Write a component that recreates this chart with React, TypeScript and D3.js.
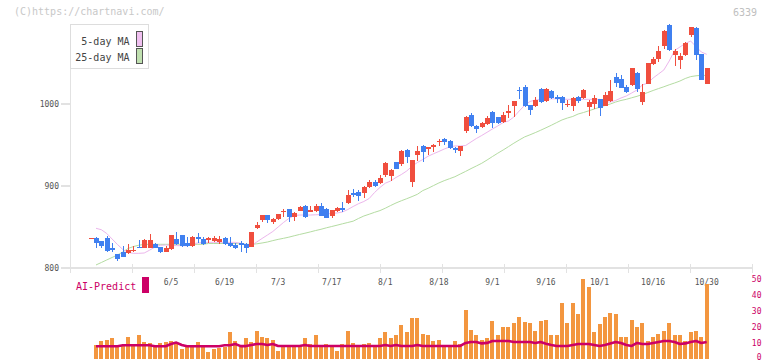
import React from "react";
import * as d3 from "d3";

// ---- data (slot -1 .. 114 for candles; slot 0 .. 114 for the rest) ----
const FIRST_SLOT = -1;
const open = [
  835.8,
  837, 833, 836, 824, 816.5, 820, 818.5, 821, 825.5, 825,
  825, 829, 825.5, 820, 823, 835.5, 840, 831, 827, 837.5,
  835.5, 834, 833, 832, 837, 831, 828.5, 831, 829, 826,
  849, 858.5, 864.6, 856.5, 859.8, 868, 872, 862.6, 869.5, 875.6,
  868.3, 869.5, 875.6, 871.6, 863.8, 869.9, 873.2, 878.9, 891.8, 893,
  891.8, 898.4, 905.2, 904, 913.4, 912.6, 929, 926.8, 943.9, 905.3,
  937.8, 948.8, 945.1, 947.9, 954, 957.3, 954.9, 946.7, 943, 967.1,
  986.6, 973.2, 972.3, 975.6, 990.6, 983.7, 977.7, 989.4, 997.6, 1017,
  1020.7, 998.4, 997.6, 1017.9, 1003.7, 1015.9, 1008, 1009, 998.4, 997.9,
  1008.9, 1007.7, 996.7, 1000, 1006, 997.9, 1004, 1032.5, 1030.5, 1021,
  1023.2, 1037.8, 1002.8, 1024.8, 1048.8, 1055, 1071, 1096.3, 1059.8, 1054,
  1059.8, 1084.5, 1092.7, 1061, 1024.8,
];
const high = [
  836.2,
  838, 833.5, 839, 830, 817, 827, 829, 827, 834, 835,
  841, 831, 826, 827, 840.5, 844, 840.5, 838, 838.5, 843,
  838, 838, 839, 839, 838, 838, 830, 833, 830, 844,
  856.5, 865, 865, 861, 866, 871.6, 872.5, 868.5, 875.6, 876.8,
  875.6, 878, 878.9, 873, 871, 874.8, 880.5, 895, 896.3, 895,
  900, 907.3, 907, 914, 929, 921, 929.5, 944, 945, 932,
  949, 949.5, 948, 951, 957, 958.9, 955.5, 947.9, 949, 985,
  988.7, 975, 978, 985.7, 992, 984.5, 990.6, 998.5, 1004, 1020.4,
  1023, 999, 1009, 1019, 1019, 1016.5, 1011, 1010, 1004.9, 1008.9,
  1010, 1018.3, 1004.9, 1011, 1006.5, 1015, 1029.3, 1037.4, 1035.4, 1023.2,
  1044, 1039, 1025, 1050.4, 1057.7, 1071, 1090, 1098, 1067.5, 1062,
  1076, 1094.5, 1093.5, 1061.5, 1044,
];
const low = [
  835.8,
  824, 825, 820, 819, 808, 813, 817, 820, 824, 825,
  824, 824, 818, 819, 822, 828, 826, 826, 826, 831,
  828, 831, 832, 829, 828, 826, 823, 820, 818, 826,
  847, 856, 855.3, 853.3, 859, 862.6, 856.5, 857.7, 869, 861.3,
  868, 867.9, 863.5, 861, 860.6, 867.9, 867.9, 878, 887, 882,
  885.7, 897, 898.4, 903, 910.6, 906.5, 921, 925, 927.6, 898.4,
  931, 929.6, 937.8, 941.1, 949, 950.4, 945.1, 939.9, 936.6, 965,
  972.5, 965, 971, 974.5, 970.4, 976, 977, 983, 984, 1005.7,
  996, 987, 996, 1000.8, 1003, 1006, 1001, 993, 996.7, 991.8,
  1001.6, 1006.5, 985.7, 993.5, 985.7, 997, 1003, 1021, 1019, 1013.8,
  1022, 1014.6, 998.8, 1024, 1048, 1051.6, 1066.7, 1065, 1046.7, 1042.7,
  1059, 1081.3, 1053.7, 1029.5, 1024.5,
];
const close = [
  836.2,
  830, 827, 821, 822, 811, 814, 822.5, 822, 824.5, 834,
  834, 825, 819, 825, 840, 829, 827, 827, 838, 835.5,
  829, 837, 837, 835, 829, 827, 825, 828.5, 825, 844,
  853, 864.6, 858, 859.8, 865.9, 869.5, 862.6, 867.5, 874.8, 862.6,
  870.7, 875.6, 863.8, 861.3, 870.7, 873.5, 870.7, 889, 889.4, 888.2,
  899, 905.2, 900, 909.8, 928, 919.5, 921, 943, 935.7, 931.7,
  943, 941.8, 947.2, 950, 955.3, 954, 946.7, 944.3, 948.8, 984.5,
  973.2, 969.5, 976.5, 983.3, 977.2, 977.2, 986.6, 991.5, 1003.7, 1015.5,
  997.6, 992.7, 1004.9, 1002.8, 1017.9, 1007.7, 1006.3, 1001.6, 1000, 1007.5,
  1003.7, 1017, 1002.8, 1007, 995.5, 1011, 1015.9, 1026, 1019.9, 1014.3,
  1043.5, 1018.7, 1014.6, 1050.4, 1054.9, 1065, 1089, 1065.9, 1064.6, 1058.9,
  1074.8, 1094, 1060.2, 1029.7, 1043.9,
];
const ma5 = [
  848.4, 846.7, 842.1, 835.4, 828.7, 822.6, 818.9, 817.9, 817.9, 818.3,
  821.7, 825.6, 827.7, 828, 827.8, 827.3, 827.2, 827.2, 829.5, 830.5,
  831.1, 831.3, 831.3, 831.3, 831.3, 831.3, 831.3, 830.1, 828.7, 827.4,
  831.7, 836, 840.2, 844.5, 850, 855.5, 860.4, 864, 864.6, 864.6,
  864.6, 864.9, 865.2, 865.9, 866.5, 867.1, 868.3, 871.3, 875, 878.4,
  881.1, 884.8, 892.1, 898.2, 903.4, 906.1, 910.4, 914, 918.3, 924.1,
  928.7, 932.3, 936.3, 939.3, 942.1, 945.1, 947.6, 948.8, 948.8, 949.4,
  953.7, 957.9, 961.6, 965.5, 969.5, 973.2, 977.4, 979.3, 984.1, 991.5,
  998.2, 1003, 1004.9, 1005.5, 1005.7, 1006.3, 1006.3, 1006.1, 1005.7, 1005.7,
  1005.7, 1005.7, 1005.7, 1005.7, 1005.7, 1003, 1002.4, 1004.3, 1007.3, 1009.8,
  1013.4, 1017.1, 1023.2, 1025.6, 1031.7, 1036.6, 1041.5, 1052.4, 1065.2, 1069.5,
  1073.8, 1076.8, 1070.1, 1063.4, 1060.6,
];
const ma25 = [
  803.7, 806.7, 809.8, 812.8, 815.9, 819.5, 823.8, 826.2, 827.8, 828.7,
  828.9, 828.9, 828.9, 828.9, 828.9, 828.9, 828.9, 828.9, 828.9, 828.9,
  828.9, 829.9, 829.9, 829.9, 829.9, 829.9, 829.9, 829.3, 828.9, 828.9,
  829.5, 830.5, 831.7, 833.4, 834.9, 836.2, 837.6, 839.3, 840.9, 842.4,
  844, 845.7, 847.2, 849, 850.6, 852.2, 853.9, 855.5, 857.1, 860.4,
  863.4, 865.6, 867.9, 870, 872.9, 876.2, 879.3, 882, 884.5, 887.1,
  889.9, 894.4, 897.2, 900.5, 903.7, 906.5, 908.9, 911.3, 914.6, 917.8,
  921.2, 924.4, 927.7, 931.7, 935.9, 940, 943.9, 948, 952.2, 956.1,
  959.8, 962.4, 965.1, 968, 971, 974.1, 977.4, 980.6, 982.9, 984.8,
  987.8, 989.6, 991.7, 993.9, 996, 998.2, 1000, 1002.4, 1004.3, 1005.7,
  1007.6, 1009.4, 1011.6, 1014, 1016.5, 1018.8, 1021, 1023.4, 1025.6, 1028,
  1031.1, 1033.4, 1034.4, 1035, 1034.8,
];
const volume = [
  8.2, 10.9, 11.5, 13.2, 8.8, 8.2, 13.8, 8.2, 14.5, 10.3,
  9.6, 8.2, 9.6, 10.3, 11.3, 9.6, 5.9, 7.5, 7.5, 10.3,
  8.8, 4, 5.9, 6.7, 7.5, 16.6, 10.9, 7.5, 12.8, 10.3,
  17.2, 13.8, 13.2, 11.9, 5, 8.2, 8.2, 8.2, 8.2, 12.6,
  9.4, 15, 7.5, 9.4, 8.2, 5, 9.4, 17.6, 10, 7.5,
  9.4, 10, 8.2, 13.2, 16.4, 13.2, 14.5, 20.8, 16.4, 25.2,
  25.2, 15.7, 15, 11.3, 11.9, 8.8, 7.5, 10.7, 9.4, 30.2,
  18.2, 14.5, 11.9, 13.2, 23.3, 15, 19.5, 20.1, 22.1, 25.8,
  22.9, 22.1, 17.2, 23.3, 23.9, 15, 15, 34.6, 22.6, 34.6,
  27.7, 49.7, 44.7, 16.4, 21.4, 25.8, 28.9, 28.3, 13.8, 13.8,
  23.9, 19.5, 22.1, 11.3, 13.8, 15.7, 17.6, 22.1, 15, 14.5,
  10.7, 16.4, 17.6, 13.8, 46.9,
];
const aiPredict = [
  7.7, 7.7, 7.7, 7.7, 7.7, 8.3, 8.3, 8.3, 8.3, 8.3,
  8.3, 7.7, 7.7, 7.7, 9.1, 10.0, 8.5, 7.7, 7.7, 7.7,
  7.7, 7.7, 7.7, 7.7, 8.3, 8.3, 9.1, 7.8, 7.8, 8.5,
  9.1, 9.1, 8.5, 9.1, 7.9, 7.9, 7.9, 7.9, 7.9, 8.5,
  7.9, 7.9, 7.9, 7.9, 7.9, 7.9, 7.9, 7.9, 7.9, 7.9,
  7.9, 7.9, 7.9, 7.9, 8.5, 7.9, 8.5, 7.9, 7.9, 7.9,
  8.5, 7.9, 7.9, 7.9, 7.9, 7.9, 7.9, 7.9, 7.9, 9.8,
  10.4, 10.4, 9.5, 9.8, 11.0, 11.0, 11.0, 11.0, 10.4, 10.4,
  10.4, 10.4, 9.8, 10.4, 9.3, 8.5, 7.9, 7.9, 7.9, 8.5,
  9.1, 9.1, 9.1, 8.5, 7.9, 8.5, 9.5, 10.4, 9.8, 8.5,
  7.9, 9.8, 9.1, 9.1, 9.8, 10.4, 11.0, 11.0, 10.4, 9.1,
  9.5, 10.4, 11.0, 9.8, 10.4,
];
const dateLabels = ["6/5", "6/19", "7/3", "7/17", "8/1", "8/18", "9/1", "9/16", "10/1", "10/16", "10/30"];
const dateSlots = [14, 24, 34, 44, 54, 64, 74, 84, 94, 104, 114];
const priceTicks = [800, 900, 1000];
const volTicks = [0, 10, 20, 30, 40, 50];

const FONT = '"DejaVu Sans Mono", "Liberation Mono", monospace';
const UP = "#f04e3e";
const DOWN = "#4080f0";
const AXIS = "#e2e2e2";
const MAGENTA = "#cc0066";

export default function App() {
  const x = d3.scaleLinear().domain([0, 114]).range([96, 706.7]);
  const y = d3.scaleLinear().domain([800, 1000]).range([268, 104]);
  const yv = d3.scaleLinear().domain([0, 50]).range([358.5, 279]);
  const frame = d3.scaleLinear().domain([0, 11]).range([70.5, 752.5]);

  const candles = open.map((o, k) => ({
    slot: k + FIRST_SLOT,
    o,
    h: high[k],
    l: low[k],
    c: close[k],
  }));

  const lineP = d3
    .line<number>()
    .x((_, i) => x(i))
    .y((v) => y(v));
  const lineV = d3
    .line<number>()
    .x((_, i) => x(i))
    .y((v) => yv(v));

  const bodyW = 5;
  const volW = 4;

  return (
    <svg
      width={772}
      height={361}
      style={{ position: "absolute", left: 0, top: 0, background: "#fff" }}
      fontFamily={FONT}
    >
      <text x={14} y={15} fontSize={10} fill="#c8c8c8">
        (C)https://chartnavi.com/
      </text>
      <text x={757} y={16} fontSize={10} fill="#c0c0c0" textAnchor="end">
        6339
      </text>

      {/* axes frame */}
      <line x1={70.5} x2={70.5} y1={24} y2={273} stroke={AXIS} strokeWidth={1.5} shapeRendering="crispEdges" />
      <line x1={70.5} x2={752.5} y1={268} y2={268} stroke={AXIS} strokeWidth={2} shapeRendering="crispEdges" />
      {d3.range(12).map((k) => (
        <line
          key={"xt" + k}
          x1={frame(k)}
          x2={frame(k)}
          y1={264}
          y2={273}
          stroke={AXIS}
          strokeWidth={1.5}
          shapeRendering="crispEdges"
        />
      ))}
      {priceTicks.map((v) => (
        <g key={"yt" + v}>
          <line x1={61} x2={70.5} y1={y(v)} y2={y(v)} stroke={AXIS} strokeWidth={1.5} shapeRendering="crispEdges" />
          <text x={59} y={y(v) + 3} fontSize={8} fill="#555" textAnchor="end">
            {v}
          </text>
        </g>
      ))}
      {dateLabels.map((t, k) => (
        <text key={"dl" + k} x={x(dateSlots[k])} y={285} fontSize={8} fill="#555" textAnchor="middle">
          {t}
        </text>
      ))}

      {/* moving averages */}
      <path d={lineP(ma25) || ""} fill="none" stroke="#b4dca2" strokeWidth={1} />
      <path d={lineP(ma5) || ""} fill="none" stroke="#ecb6ec" strokeWidth={1} />

      {/* candles */}
      {candles.map((d) => {
        const cx = Math.round(x(d.slot));
        const up = d.c >= d.o;
        const col = up ? UP : DOWN;
        const top = y(Math.max(d.o, d.c));
        const bot = y(Math.min(d.o, d.c));
        return (
          <g key={"c" + d.slot} shapeRendering="crispEdges">
            <rect x={cx} y={y(d.h)} width={1} height={Math.max(1, y(d.l) - y(d.h))} fill={col} />
            <rect x={cx - 2} y={top} width={bodyW} height={Math.max(1, bot - top)} fill={col} />
          </g>
        );
      })}

      {/* legend */}
      <rect x={70.5} y={24.5} width={78} height={44} fill="#fff" stroke="#dddddd" strokeWidth={1} />
      <text x={129.5} y={44.5} fontSize={10} fill="#444" textAnchor="end">
        5-day MA
      </text>
      <text x={129.5} y={60.5} fontSize={10} fill="#444" textAnchor="end">
        25-day MA
      </text>
      <rect x={136.5} y={31.5} width={6} height={15} fill="#f0c0f0" stroke="#555" strokeWidth={1} />
      <rect x={136.5} y={48.5} width={6} height={15} fill="#c0e0b0" stroke="#555" strokeWidth={1} />

      {/* AI-Predict panel */}
      <text x={76} y={290} fontSize={10} fill={MAGENTA}>
        AI-Predict
      </text>
      <rect x={142} y={277} width={7} height={16} fill={MAGENTA} />
      {volume.map((v, i) => (
        <rect
          key={"v" + i}
          x={Math.round(x(i)) - 2}
          y={yv(v)}
          width={volW}
          height={yv(0) - yv(v)}
          fill="#f3963f"
          shapeRendering="crispEdges"
        />
      ))}
      <path d={lineV(aiPredict) || ""} fill="none" stroke={MAGENTA} strokeWidth={2.6} strokeLinejoin="round" />
      {volTicks.map((v) => (
        <text
          key={"vt" + v}
          x={761.5}
          y={Math.min(yv(v) + 3, 359.5)}
          fontSize={8}
          fill={MAGENTA}
          textAnchor="end"
        >
          {v}
        </text>
      ))}
    </svg>
  );
}
